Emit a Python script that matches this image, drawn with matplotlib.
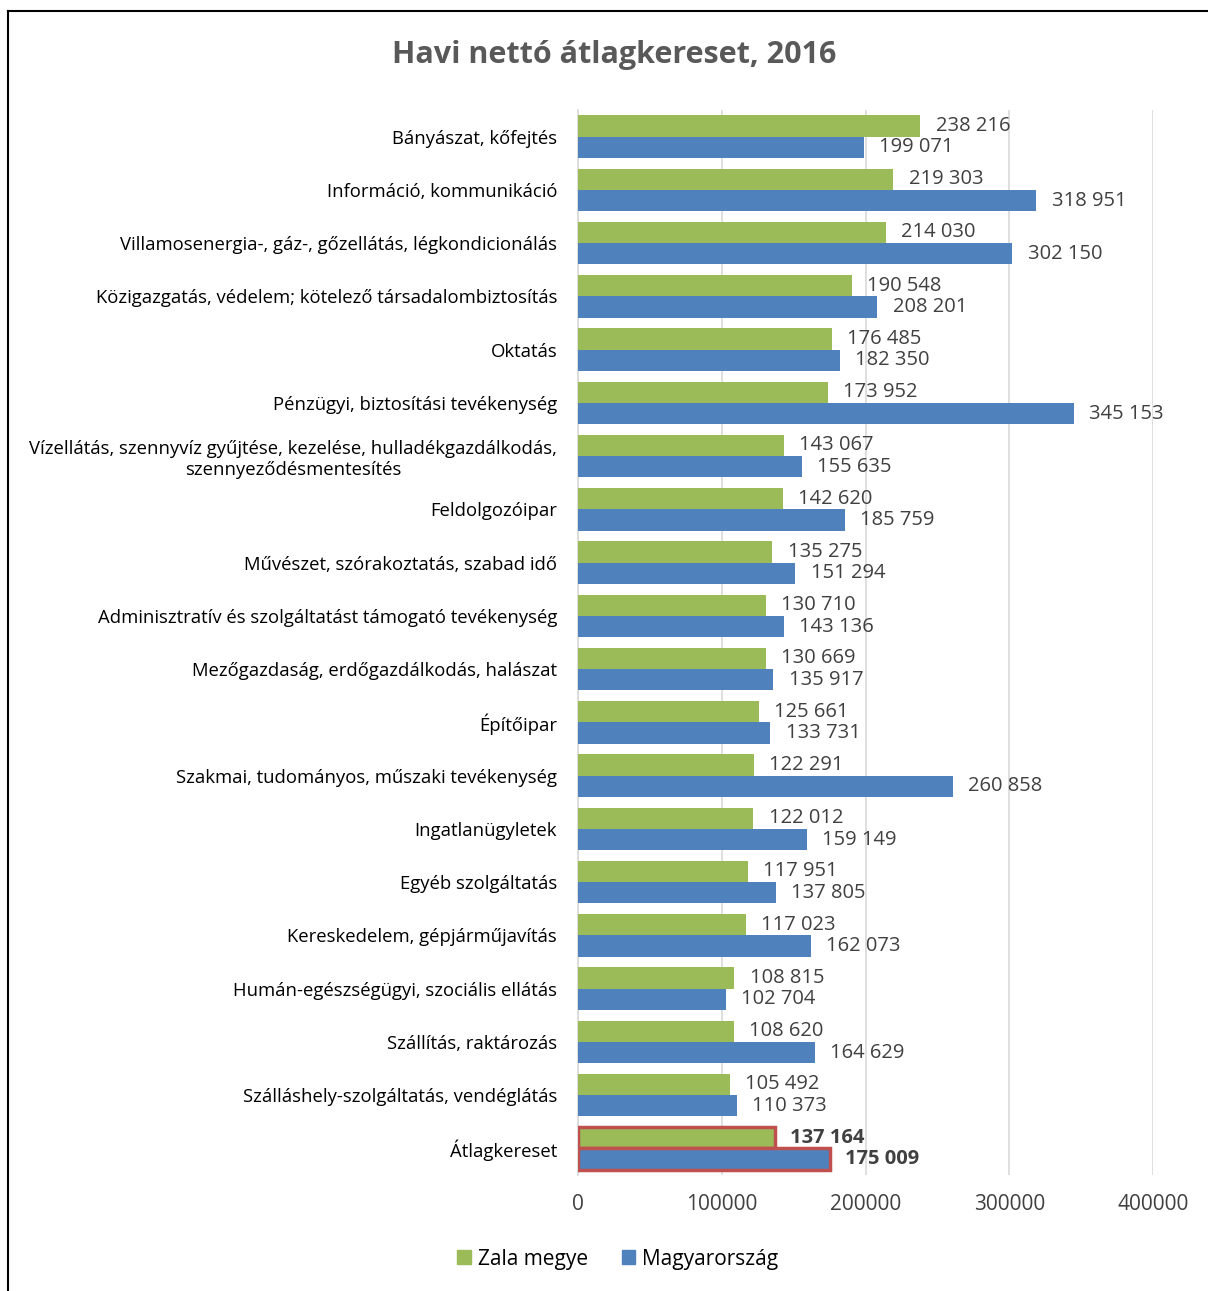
import numpy as np
import matplotlib
matplotlib.use("Agg")
from matplotlib import pyplot as plt
from matplotlib.lines import Line2D
from matplotlib.patches import Patch

plt.rcParams['font.family'] = ['Open Sans', 'DejaVu Sans']

categories = [
    "Bányászat, kőfejtés",
    "Információ, kommunikáció",
    "Villamosenergia-, gáz-, gőzellátás, légkondicionálás",
    "Közigazgatás, védelem; kötelező társadalombiztosítás",
    "Oktatás",
    "Pénzügyi, biztosítási tevékenység",
    "Vízellátás, szennyvíz gyűjtése, kezelése, hulladékgazdálkodás,\nszennyeződésmentesítés",
    "Feldolgozóipar",
    "Művészet, szórakoztatás, szabad idő",
    "Adminisztratív és szolgáltatást támogató tevékenység",
    "Mezőgazdaság, erdőgazdálkodás, halászat",
    "Építőipar",
    "Szakmai, tudományos, műszaki tevékenység",
    "Ingatlanügyletek",
    "Egyéb szolgáltatás",
    "Kereskedelem, gépjárműjavítás",
    "Humán-egészségügyi, szociális ellátás",
    "Szállítás, raktározás",
    "Szálláshely-szolgáltatás, vendéglátás",
    "Átlagkereset",
]
zala = [238216, 219303, 214030, 190548, 176485, 173952, 143067, 142620, 135275, 130710,
        130669, 125661, 122291, 122012, 117951, 117023, 108815, 108620, 105492, 137164]
magyar = [199071, 318951, 302150, 208201, 182350, 345153, 155635, 185759, 151294, 143136,
          135917, 133731, 260858, 159149, 137805, 162073, 102704, 164629, 110373, 175009]
xticks = [0, 100000, 200000, 300000, 400000]

GREEN = '#9BBB59'
BLUE = '#4F81BD'
RED = '#C0504D'
TXT = '#404040'

fig = plt.figure(figsize=(12.08, 12.91), dpi=100)
ax = fig.add_axes([578/1208, 1-1175/1291, 575/1208, (1175-110)/1291])

y = np.arange(len(categories))
h = 0.4
bz = ax.barh(y - h/2, zala, height=h, color=GREEN, zorder=3)
bm = ax.barh(y + h/2, magyar, height=h, color=BLUE, zorder=3)

# highlight the average row
last = len(categories) - 1
for b in (bz[last], bm[last]):
    b.set_edgecolor(RED)
    b.set_linewidth(2.5)

def fmt(v):
    return f"{v:,}".replace(",", " ")

for i in range(len(categories)):
    w = 'bold' if i == last else 'normal'
    ax.annotate(fmt(zala[i]), (zala[i], i - h/2), xytext=(11, 0), textcoords='offset points',
                va='center', ha='left', fontsize=14.5, color=TXT, fontweight=w)
    ax.annotate(fmt(magyar[i]), (magyar[i], i + h/2), xytext=(11, 0), textcoords='offset points',
                va='center', ha='left', fontsize=14.5, color=TXT, fontweight=w)

ax.set_xlim(0, 400000)
ax.set_ylim(len(categories) - 0.5, -0.5)
ax.set_xticks(xticks)
ax.set_xticklabels([str(t) for t in xticks], fontsize=15, color=TXT)
ax.set_yticks(y)
ax.set_yticklabels(categories, fontsize=13.3, color='black', multialignment='center')
ax.tick_params(axis='both', length=0)
ax.tick_params(axis='y', pad=15)
ax.tick_params(axis='x', pad=14)
ax.grid(axis='x', color='#D9D9D9', linewidth=1.2, zorder=0)
for s in ['top', 'right', 'bottom']:
    ax.spines[s].set_visible(False)
ax.spines['left'].set_color('#D9D9D9')
ax.spines['left'].set_linewidth(1.2)

fig.text(614/1208, 1-55/1291, "Havi nettó átlagkereset, 2016", ha='center', va='center',
         fontsize=22, fontweight='bold', color='#595959')

handles = [Patch(color=GREEN), Patch(color=BLUE)]
fig.legend(handles, ["Zala megye", "Magyarország"], loc='center', bbox_to_anchor=(618/1208, 1-1259/1291),
           ncol=2, frameon=False, fontsize=15, handlelength=0.65, handleheight=0.65,
           handletextpad=0.35, columnspacing=1.6)

# outer chart border (cropped on right and bottom)
fig.add_artist(Line2D([8/1208, 8/1208], [0, 1-11/1291], color='black', linewidth=1.5))
fig.add_artist(Line2D([8/1208, 1], [1-11/1291, 1-11/1291], color='black', linewidth=1.5))

fig.savefig("out.png", dpi=100)
